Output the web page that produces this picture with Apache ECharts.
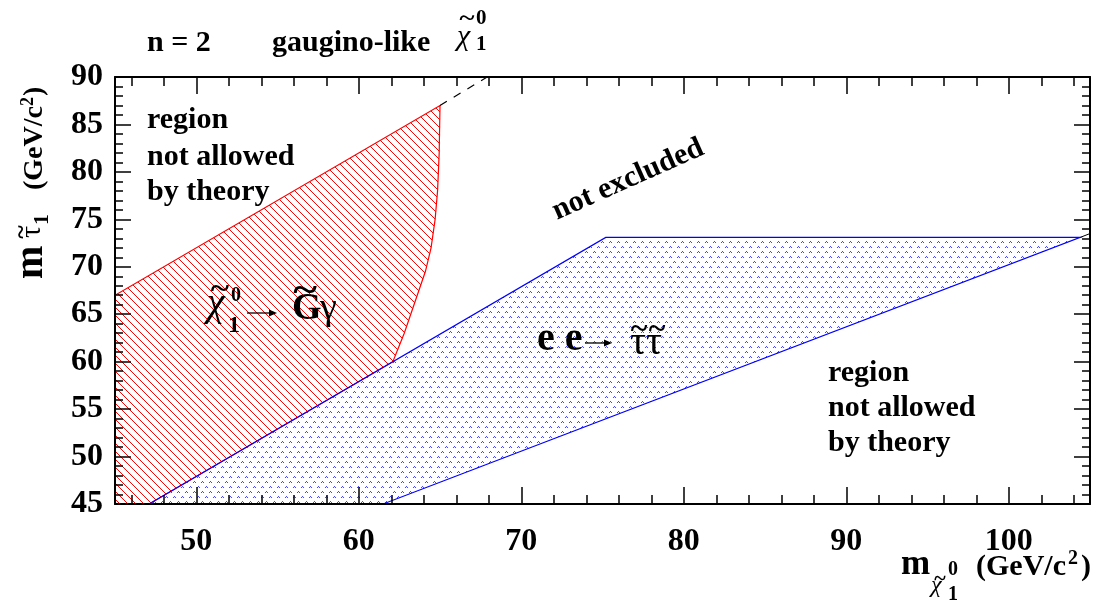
<!DOCTYPE html>
<html>
<head>
<meta charset="utf-8">
<title>stau vs neutralino</title>
<script src="https://cdn.jsdelivr.net/npm/echarts@6/dist/echarts.min.js"></script>
<style>
  html, body { margin: 0; padding: 0; background: #fff; }
  #main { width: 1102px; height: 604px; }
</style>
</head>
<body>
<div id="main"></div>
<script>
// axis ranges, GeV/c^2
var xRange = [45, 105];
var yRange = [45, 90];
var xMajorTicks = [50, 60, 70, 80, 90, 100];
var xMinorTicks = [46, 48, 52, 54, 56, 58, 62, 64, 66, 68, 72, 74, 76, 78,
                   82, 84, 86, 88, 92, 94, 96, 98, 102, 104];

// chi -> G gamma excluded region (m_chi, m_stau)
var photonRegion = [[45, 45], [45, 67], [65, 87], [64.95, 82], [64.85, 78], [64.7, 75],
                    [64.45, 72], [64.1, 69.5], [63.5, 66.5], [62.8, 63], [62.1, 60], [47.1, 45]];
// e e -> stau stau excluded region
var stauRegion = [[47.1, 45], [75.2, 73.1], [104.4, 73.1], [61.5, 45]];
// theory limit continued above the hatched area (dashed)
var theoryLine = [[65, 87], [67.9, 90]];
// kinematic line continued past the blue area
var kinLine = [[104.4, 73.1], [105, 73.5]];

var SERIF = "'Liberation Serif', 'DejaVu Serif', serif";

// red \\\ hatching
function hatch() {
  var c = document.createElement('canvas');
  c.width = 8; c.height = 8;
  var ctx = c.getContext('2d');
  ctx.strokeStyle = '#ff0000';
  ctx.lineWidth = 1;
  ctx.beginPath();
  ctx.moveTo(-1, -1); ctx.lineTo(9, 9);
  ctx.moveTo(-1, 7); ctx.lineTo(1, 9);
  ctx.moveTo(7, -1); ctx.lineTo(9, 1);
  ctx.stroke();
  return { image: c, repeat: 'repeat' };
}

// small blue ^ marks
function dots() {
  var c = document.createElement('canvas');
  c.width = 8; c.height = 10;
  var ctx = c.getContext('2d');
  ctx.fillStyle = '#4646ff';
  [[1, 1], [5, 6]].forEach(function (p) {
    ctx.fillRect(p[0] + 1, p[1], 1, 1);
    ctx.fillRect(p[0], p[1] + 1, 1, 1);
    ctx.fillRect(p[0] + 2, p[1] + 1, 1, 1);
  });
  return { image: c, repeat: 'repeat' };
}

function region(points, fill, stroke) {
  return function (params, api) {
    return {
      type: 'polygon',
      shape: { points: points.map(function (p) { return api.coord(p); }) },
      style: { fill: fill, stroke: stroke, lineWidth: 1.2 }
    };
  };
}

// text placed by its baseline
function txt(x, base, s, size, o) {
  o = o || {};
  return {
    type: 'text', x: x, y: base, rotation: o.rot || 0, z: 100,
    scaleX: o.sx || 1,
    style: {
      x: 0, y: -0.34 * size, text: s, fill: '#000',
      font: (o.italic ? 'italic ' : '') + (o.normal ? '' : 'bold ') + size + 'px ' + SERIF,
      align: o.align || 'left', verticalAlign: 'middle'
    }
  };
}

function arrow(x1, x2, y) {
  return [
    { type: 'line', z: 100, shape: { x1: x1, y1: y, x2: x2 - 6, y2: y }, style: { stroke: '#000', lineWidth: 1.3 } },
    { type: 'polygon', z: 100, shape: { points: [[x2 - 8, y - 3.5], [x2, y], [x2 - 8, y + 3.5]] }, style: { fill: '#000' } }
  ];
}

var R = Math.PI / 2;
var texts = [
  // header
  txt(147, 53, 'n = 2', 30),
  txt(272, 53, 'gaugino-like', 30),
  txt(457, 47, 'χ', 30, { normal: true, italic: true }),
  txt(467, 27, '~', 24, { align: 'center', sx: 1.2 }),
  txt(476, 26, '0', 21),
  txt(476, 52, '1', 21),
  // left region text
  txt(147, 130, 'region', 30),
  txt(147, 167, 'not allowed', 30),
  txt(147, 202, 'by theory', 30),
  // right region text
  txt(828, 383, 'region', 30),
  txt(828, 418, 'not allowed', 30),
  txt(828, 453, 'by theory', 30),
  txt(558, 222, 'not excluded', 30, { rot: 24 * Math.PI / 180 }),
  // chi -> G gamma
  txt(207, 318, 'χ', 40, { normal: true, italic: true }),
  txt(220, 301, '~', 32, { align: 'center', sx: 1.1 }),
  txt(231, 303, '0', 20),
  txt(228, 334, '1', 24),
  txt(292, 322, 'G', 38),
  txt(305, 305, '~', 38, { align: 'center', sx: 1.2 }),
  txt(320, 322, 'γ', 38, { normal: true }),
  // e e -> stau stau
  txt(537, 353, 'e e', 40),
  txt(630, 357, 'ττ', 40, { normal: true }),
  txt(639, 341, '~', 32, { align: 'center' }),
  txt(657, 341, '~', 32, { align: 'center' }),
  // x axis title
  txt(901, 577, 'm', 35),
  txt(931, 594, 'χ', 24, { normal: true, italic: true }),
  txt(940, 587, '~', 22, { align: 'center' }),
  txt(948, 577, '0', 20),
  txt(948, 602, '1', 20),
  txt(976, 577, '(GeV/c', 30),
  txt(1068, 566, '2', 20),
  txt(1081, 577, ')', 30),
  // y axis title (rotated)
  txt(45, 279, 'm', 40, { rot: R }),
  txt(42, 238, 'τ', 30, { rot: R, normal: true }),
  txt(31, 232, '~', 26, { rot: R, align: 'center' }),
  txt(50, 225, '1', 22, { rot: R }),
  txt(44, 190, '(GeV/c', 28, { rot: R }),
  txt(34, 106, '2', 18, { rot: R }),
  txt(44, 96, ')', 28, { rot: R })
];
texts = texts.concat(arrow(247, 277, 313), arrow(585, 612, 343));

var labelStyle = { color: '#000', fontFamily: SERIF, fontWeight: 'bold', fontSize: 32 };
var frameLine = { show: true, lineStyle: { color: '#000', width: 2 } };

function xAxisOf(pos, ticks, len, labels) {
  return {
    type: 'value', position: pos, min: xRange[0], max: xRange[1], z: 10,
    axisLine: ticks === xMajorTicks ? frameLine : { show: false },
    axisTick: { show: true, inside: true, length: len, customValues: ticks,
                lineStyle: { color: '#000', width: 1.5 } },
    axisLabel: labels ? Object.assign({ margin: 22, customValues: xMajorTicks }, labelStyle) : { show: false },
    splitLine: { show: false }
  };
}

function yAxisOf(pos, labels) {
  return {
    type: 'value', position: pos, min: yRange[0], max: yRange[1], interval: 5, z: 10,
    axisLine: frameLine,
    axisTick: { show: true, inside: true, length: 16, lineStyle: { color: '#000', width: 1.5 } },
    minorTick: { show: true, splitNumber: 5, length: 8, lineStyle: { color: '#000', width: 1.5 } },
    axisLabel: labels ? Object.assign({ margin: 12 }, labelStyle) : { show: false },
    splitLine: { show: false }
  };
}

var chart = echarts.init(document.getElementById('main'));
chart.setOption({
  animation: false,
  backgroundColor: '#fff',
  grid: { left: 115, right: 12, top: 77, bottom: 100, containLabel: false, outerBoundsMode: 'none' },
  xAxis: [
    xAxisOf('bottom', xMajorTicks, 17, true),
    xAxisOf('bottom', xMinorTicks, 9, false),
    xAxisOf('top', xMajorTicks, 17, false),
    xAxisOf('top', xMinorTicks, 9, false)
  ],
  yAxis: [yAxisOf('left', true), yAxisOf('right', false)],
  graphic: texts,
  series: [
    { type: 'custom', name: 'photon', xAxisIndex: 0, yAxisIndex: 0, silent: true, z: 2,
      data: [photonRegion[0]], renderItem: region(photonRegion, hatch(), '#ff0000') },
    { type: 'custom', name: 'stau', xAxisIndex: 0, yAxisIndex: 0, silent: true, z: 3,
      data: [stauRegion[0]], renderItem: region(stauRegion, dots(), '#0000ff') },
    { type: 'line', xAxisIndex: 0, yAxisIndex: 0, data: theoryLine, symbol: 'none', z: 4,
      lineStyle: { color: '#000', width: 1.2, type: [8, 8] } },
    { type: 'line', xAxisIndex: 0, yAxisIndex: 0, data: kinLine, symbol: 'none', z: 4,
      lineStyle: { color: '#000', width: 1 } }
  ]
});
</script>
</body>
</html>
